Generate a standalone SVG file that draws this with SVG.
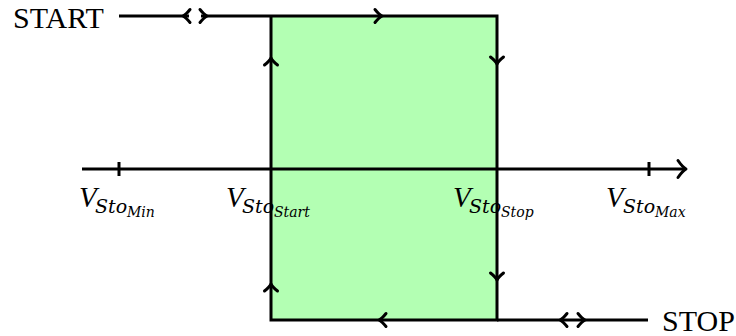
<svg xmlns="http://www.w3.org/2000/svg" xmlns:xlink="http://www.w3.org/1999/xlink" width="736" height="336" viewBox="0 0 736 336">
<style>
.ln{fill:none;stroke:#000;stroke-width:3;stroke-linejoin:miter;stroke-linecap:butt}
.chev{fill:none;stroke:#000;stroke-width:3;stroke-linecap:round;stroke-linejoin:round}
.lbl{font-family:"Liberation Serif","Times New Roman",serif;font-size:30px;fill:#000}
.v{font-family:"Liberation Serif","Times New Roman",serif;font-style:italic;font-size:29px;fill:#000}
.s1{font-family:"DejaVu Serif","Liberation Serif",serif;font-style:italic;font-size:19px;fill:#000}
.s2{font-family:"DejaVu Serif","Liberation Serif",serif;font-style:italic;font-size:14px;fill:#000}
</style>
<defs>
<path id="chv" class="chev" d="M-7,-6.5 Q-3,-1.5 0,0 Q-3,1.5 -7,6.5"/>
<path id="chvBig" class="chev" d="M-8,-8.5 Q-3.5,-2 0,0 Q-3.5,2 -8,8.5"/>
</defs>
<g id="hysteresis-area">
<rect x="271" y="16" width="226" height="304" fill="#b3ffb3"/>
</g>
<g id="axis">
<line class="ln" x1="82" y1="169" x2="685" y2="169"/>
<line class="ln" x1="119" y1="162" x2="119" y2="176"/>
<line class="ln" x1="649" y1="162" x2="649" y2="176"/>
<use xlink:href="#chvBig" transform="translate(686,169)"/>
</g>
<g id="connectors">
<line class="ln" x1="119" y1="16" x2="189" y2="16"/>
<polyline class="ln" points="201,16 497,16 497,320 271,320 271,16"/>
<line class="ln" x1="497" y1="320" x2="648" y2="320"/>
<use xlink:href="#chv" transform="translate(183,16) rotate(180)"/>
<use xlink:href="#chv" transform="translate(207,16)"/>
<use xlink:href="#chv" transform="translate(382,16)"/>
<use xlink:href="#chv" transform="translate(497,64) rotate(90)"/>
<use xlink:href="#chv" transform="translate(497,280) rotate(90)"/>
<use xlink:href="#chv" transform="translate(379,320) rotate(180)"/>
<use xlink:href="#chv" transform="translate(271,284) rotate(-90)"/>
<use xlink:href="#chv" transform="translate(271,58) rotate(-90)"/>
<use xlink:href="#chv" transform="translate(560,320) rotate(180)"/>
<use xlink:href="#chv" transform="translate(585,320)"/>
</g>
<g id="start-label"><text class="lbl" x="13" y="28">START</text></g>
<g id="stop-label"><text class="lbl" x="662" y="331">STOP</text></g>
<g id="label-min">
<text class="v" x="79" y="207">V</text>
<text class="s1" x="95" y="213">Sto</text>
<text class="s2" x="127" y="217">Min</text>
</g>
<g id="label-start">
<text class="v" x="226" y="207">V</text>
<text class="s1" x="242" y="213">Sto</text>
<text class="s2" x="274" y="217">Start</text>
</g>
<g id="label-stop">
<text class="v" x="453" y="207">V</text>
<text class="s1" x="469" y="213">Sto</text>
<text class="s2" x="501" y="217">Stop</text>
</g>
<g id="label-max">
<text class="v" x="606" y="207">V</text>
<text class="s1" x="623" y="213">Sto</text>
<text class="s2" x="655" y="217">Max</text>
</g>
</svg>
